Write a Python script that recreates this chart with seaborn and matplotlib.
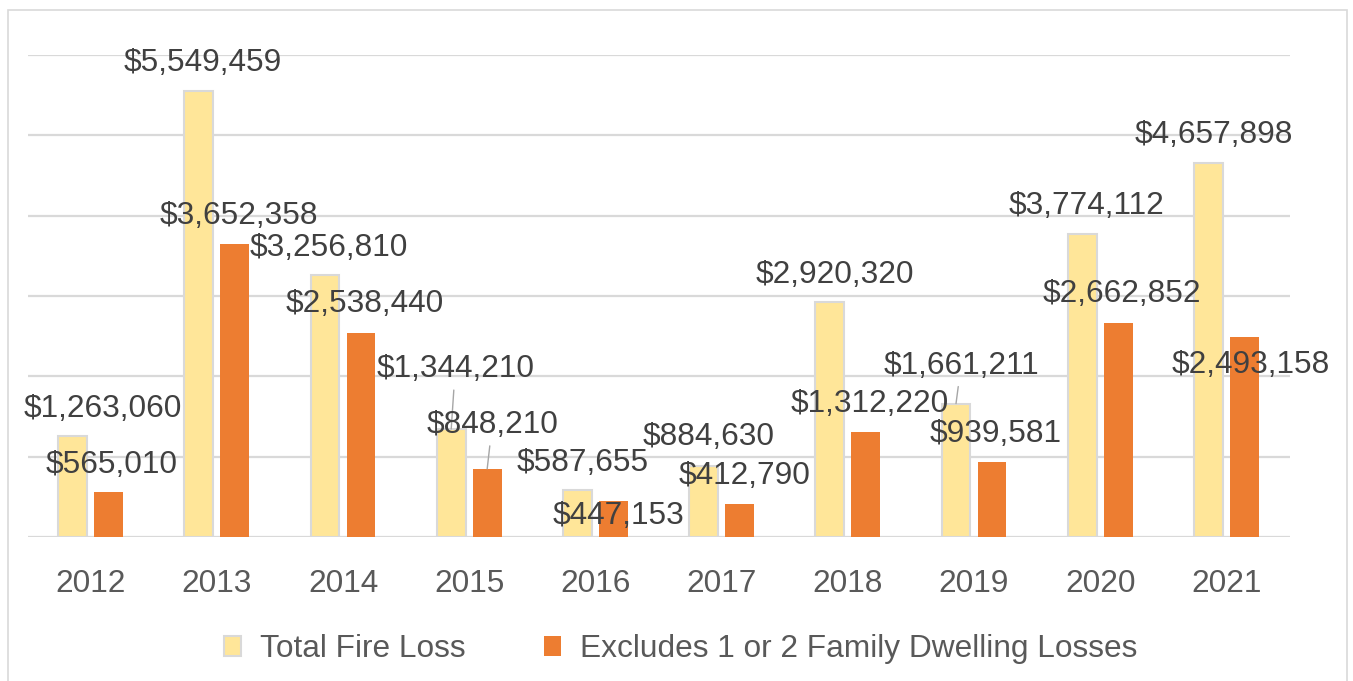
import matplotlib
matplotlib.use('Agg')
import matplotlib.pyplot as plt
from matplotlib.patches import Patch, Rectangle
import pandas as pd
import seaborn as sns

# данные
years = ['2012', '2013', '2014', '2015', '2016', '2017', '2018', '2019', '2020', '2021']
total_loss = [1263060, 5549459, 3256810, 1344210, 587655, 884630, 2920320, 1661211, 3774112, 4657898]
excl_loss = [565010, 3652358, 2538440, 848210, 447153, 412790, 1312220, 939581, 2662852, 2493158]
series_names = ['Total Fire Loss', 'Excludes 1 or 2 Family Dwelling Losses']

# смещения подписей от верхушки столбца (пиксели), как их раскидали руками
total_dx = [30, 4, 4, 4, 5, 5, 5, 5, 4, 5]
total_dy = [26.5, 28, 27, 60, 27, 29, 27, 38, 28, 28]
total_leader = [False, False, False, True, False, False, False, True, False, False]
excl_dx = [3.5, 4, 4, 5, 5.6, 5, 4, 4, 4, 6.6]
excl_dy = [26.6, 27.6, 29, 44, -15, 28, 27.6, 27.5, 29, -28]
excl_leader = [False, False, False, True, False, False, False, False, False, False]

# цвета
yellow = '#FFE699'
orange = '#ED7D31'
grid_c = '#D9D9D9'
label_c = '#404040'
tick_c = '#595959'

sns.set_style('white')
plt.rcParams['font.family'] = ['Liberation Sans', 'DejaVu Sans']
fs = 22.75

df = pd.DataFrame({
    'year': years * 2,
    'series': [series_names[0]] * len(years) + [series_names[1]] * len(years),
    'value': total_loss + excl_loss,
})

fig = plt.figure(figsize=(13.53, 6.81), dpi=100)
ax = fig.add_axes([27.5 / 1353, 1 - 537 / 681, 1262 / 1353, 482 / 681])

sns.barplot(data=df, x='year', y='value', hue='series', hue_order=series_names,
            palette=[yellow, orange], width=0.57, gap=0.2, saturation=1,
            linewidth=0, legend=False, ax=ax)

# желтые столбцы с серой обводкой
for bar in ax.containers[0]:
    bar.set_edgecolor(grid_c)
    bar.set_linewidth(1.5)

ax.set_ylim(0, 6000000)
ax.set_xlim(-0.5, len(years) - 0.5)
ax.set_yticks(range(0, 6000001, 1000000))
ax.yaxis.grid(True, color=grid_c, linewidth=1.6)
ax.set_axisbelow(True)
ax.set_yticklabels([])
ax.tick_params(axis='y', length=0)
ax.tick_params(axis='x', length=0, pad=23, labelsize=fs, labelcolor=tick_c)
ax.set_xlabel('')
ax.set_ylabel('')
for s in ax.spines.values():
    s.set_visible(False)

# подписи значений
groups = [(ax.containers[0], total_loss, total_dx, total_dy, total_leader),
          (ax.containers[1], excl_loss, excl_dx, excl_dy, excl_leader)]
for bars, vals, dxs, dys, leaders in groups:
    for bar, v, dx, dy, lead in zip(bars, vals, dxs, dys, leaders):
        cx = bar.get_x() + bar.get_width() / 2
        kw = {}
        if lead:
            kw['arrowprops'] = dict(arrowstyle='-', color='#A6A6A6', lw=1,
                                    shrinkA=2, shrinkB=0)
        ax.annotate(f'${v:,.0f}', xy=(cx, v), xytext=(dx, dy), textcoords='offset pixels',
                    ha='center', va='center', fontsize=fs, color=label_c,
                    annotation_clip=False, **kw)

# легенда
handles = [Patch(facecolor=yellow, edgecolor=grid_c, linewidth=1.5),
           Patch(facecolor=orange, edgecolor=orange, linewidth=0)]
fig.legend(handles, series_names, loc='center', bbox_to_anchor=(0.5033, 0.047),
           ncol=2, frameon=False, fontsize=fs, labelcolor=tick_c,
           handlelength=0.55, handleheight=0.58, handletextpad=0.6, columnspacing=2.47)

# рамка вокруг графика
fig.patches.append(Rectangle((8 / 1353, -0.05), 1339 / 1353, 1 - 10 / 681 + 0.05,
                             transform=fig.transFigure, fill=False,
                             edgecolor=grid_c, linewidth=1.2))

plt.savefig('out.png', dpi=100)
plt.close()
